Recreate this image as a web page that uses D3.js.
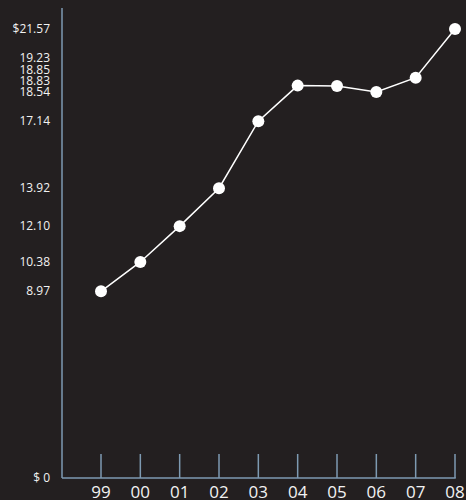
<!DOCTYPE html>
<html><head><meta charset="utf-8">
<script src="https://cdn.jsdelivr.net/npm/d3@7"></script>
<style>html,body{margin:0;padding:0;background:#231f20;}svg{display:block;}</style>
</head><body>
<script>
const years = ["99","00","01","02","03","04","05","06","07","08"];
const values = [8.97, 10.38, 12.10, 13.92, 17.14, 18.85, 18.83, 18.54, 19.23, 21.57];
const yLabels = ["$ 0","8.97","10.38","12.10","13.92","17.14","18.54","18.83","18.85","19.23","$21.57"];
const yLabelValues = [0, 8.97, 10.38, 12.10, 13.92, 17.14, 18.54, 18.83, 18.85, 19.23, 21.57];

const W = 466, H = 500;
const svg = d3.select("body").append("svg").attr("width", W).attr("height", H);
svg.append("rect").attr("width", W).attr("height", H).attr("fill", "#231f20");

const x = d3.scalePoint().domain(years).range([101, 455]);
const y = d3.scaleLinear().domain([0, 21.57]).range([478, 29]);
const axisColor = "#7e9ab2";

// y axis line
svg.append("line").attr("x1", 62).attr("x2", 62).attr("y1", 8).attr("y2", y(0))
  .attr("stroke", axisColor).attr("stroke-width", 1.5);
// x axis line
svg.append("line").attr("x1", 62).attr("x2", x(years[years.length-1]) + 0.75).attr("y1", y(0)).attr("y2", y(0))
  .attr("stroke", axisColor).attr("stroke-width", 1.5);
// x ticks
svg.selectAll(".xt").data(years).enter().append("line")
  .attr("x1", d => x(d)).attr("x2", d => x(d)).attr("y1", 454).attr("y2", y(0))
  .attr("stroke", axisColor).attr("stroke-width", 1.5);
svg.selectAll(".xl").data(years).enter().append("text")
  .attr("x", d => x(d)).attr("y", 498).attr("text-anchor", "middle")
  .attr("font-family", "Open Sans, Noto Sans, sans-serif").attr("font-size", 17)
  .attr("fill", "#f2f2f2").text(d => d);

// y labels with collision avoidance (push upward)
const lab = yLabelValues.map((v, i) => ({v, t: yLabels[i], py: y(v)}));
lab.sort((a, b) => b.py - a.py);
const gap = 11.3;
for (let i = 1; i < lab.length; i++) {
  if (lab[i].py > lab[i-1].py - gap) lab[i].py = lab[i-1].py - gap;
}
svg.selectAll(".yl").data(lab).enter().append("text")
  .attr("x", 50).attr("y", d => d.py).attr("dy", "0.35em").attr("text-anchor", "end")
  .attr("font-family", "Open Sans, Noto Sans, sans-serif").attr("font-size", 12)
  .attr("fill", "#f2f2f2").text(d => d.t);

// line
const line = d3.line().x((d, i) => x(years[i])).y(d => y(d));
svg.append("path").datum(values).attr("d", line).attr("fill", "none")
  .attr("stroke", "#ffffff").attr("stroke-width", 1.5);
svg.selectAll(".pt").data(values).enter().append("circle")
  .attr("cx", (d, i) => x(years[i])).attr("cy", d => y(d)).attr("r", 6)
  .attr("fill", "#ffffff");
</script>
</body></html>
